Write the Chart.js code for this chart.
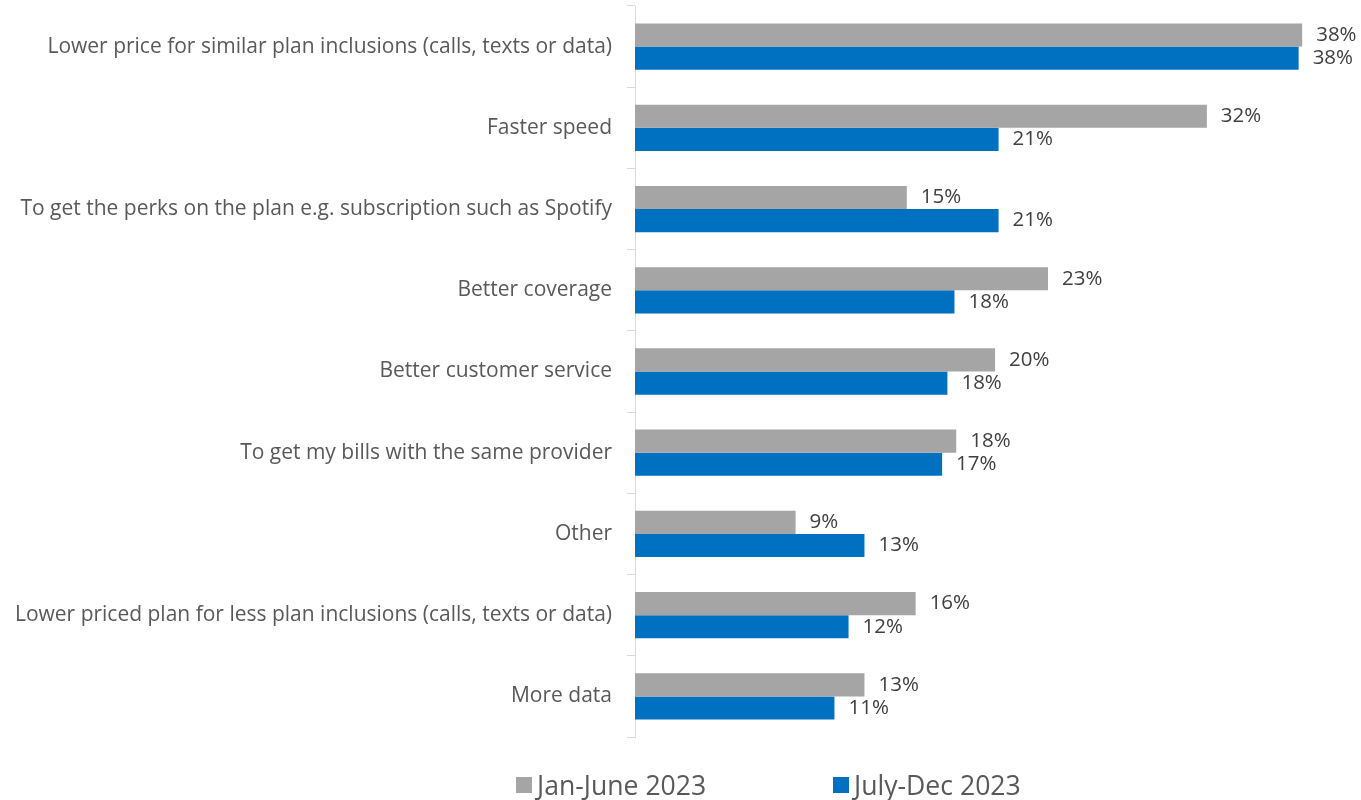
<!DOCTYPE html>
<html>
<head>
<meta charset="utf-8">
<script src="https://cdn.jsdelivr.net/npm/chart.js@4/dist/chart.umd.min.js"></script>
<style>
  html, body { margin: 0; padding: 0; background: #ffffff; }
  #wrap { position: relative; width: 1361px; height: 800px; }
  #c { position: absolute; left: 0; top: 0; }
  .leg { position: absolute; top: 767px; display: flex; align-items: center;
         font-family: "Open Sans", sans-serif; font-size: 26.6px; line-height: 36px; color: #595959; white-space: nowrap; }
  .leg span.box { display: inline-block; width: 16px; height: 16px; margin-right: 5px; }
</style>
</head>
<body>
<div id="wrap">
  <canvas id="c" width="1361" height="800"></canvas>
  <div class="leg" id="leg0" style="left:516px"></div>
  <div class="leg" id="leg1" style="left:833px"></div>
</div>
<script>
const categories = [
  "Lower price for similar plan inclusions (calls, texts or data)",
  "Faster speed",
  "To get the perks on the plan e.g. subscription such as Spotify",
  "Better coverage",
  "Better customer service",
  "To get my bills with the same provider",
  "Other",
  "Lower priced plan for less plan inclusions (calls, texts or data)",
  "More data"
];
const seriesNames = ["Jan-June 2023", "July-Dec 2023"];
const janJune = [37.8, 32.4, 15.4, 23.4, 20.4, 18.2, 9.1, 15.9, 13.0];
const julyDec = [37.6, 20.6, 20.6, 18.1, 17.7, 17.4, 13.0, 12.1, 11.3];
const seriesColors = ["#A5A5A5", "#0070C0"];

const FONT = "Open Sans";

const valueLabels = {
  id: "valueLabels",
  afterDatasetsDraw(chart) {
    const ctx = chart.ctx;
    ctx.save();
    ctx.font = "20.5px '" + FONT + "'";
    ctx.fillStyle = "#404040";
    ctx.textAlign = "left";
    ctx.textBaseline = "middle";
    chart.data.datasets.forEach((ds, di) => {
      const meta = chart.getDatasetMeta(di);
      meta.data.forEach((el, i) => {
        ctx.fillText(Math.round(ds.data[i]) + "%", el.x + 14, el.y);
      });
    });
    ctx.restore();
  }
};

new Chart(document.getElementById("c"), {
  type: "bar",
  data: {
    labels: categories,
    datasets: [
      { label: seriesNames[0], data: janJune, backgroundColor: seriesColors[0] },
      { label: seriesNames[1], data: julyDec, backgroundColor: seriesColors[1] }
    ]
  },
  options: {
    indexAxis: "y",
    responsive: false,
    animation: false,
    devicePixelRatio: 1,
    layout: { padding: { top: 6, right: 20, bottom: 63, left: 0 } },
    datasets: { bar: { categoryPercentage: 0.57, barPercentage: 1.0 } },
    plugins: { legend: { display: false }, tooltip: { enabled: false } },
    scales: {
      x: { display: false, min: 0, max: 40 },
      y: {
        afterFit(scale) { scale.width = 635; scale.paddingTop = 0; scale.paddingBottom = 0; },
        grid: { display: true, drawOnChartArea: false, drawTicks: true, tickLength: 8, color: "#D9D9D9", offset: true },
        border: { display: true, color: "#D9D9D9", width: 1 },
        ticks: { color: "#595959", padding: 15, font: { family: FONT, size: 21 } }
      }
    }
  },
  plugins: [valueLabels]
});

seriesNames.forEach((n, i) => {
  const d = document.getElementById("leg" + i);
  const b = document.createElement("span");
  b.className = "box";
  b.style.background = seriesColors[i];
  d.appendChild(b);
  d.appendChild(document.createTextNode(n));
});
</script>
</body>
</html>
